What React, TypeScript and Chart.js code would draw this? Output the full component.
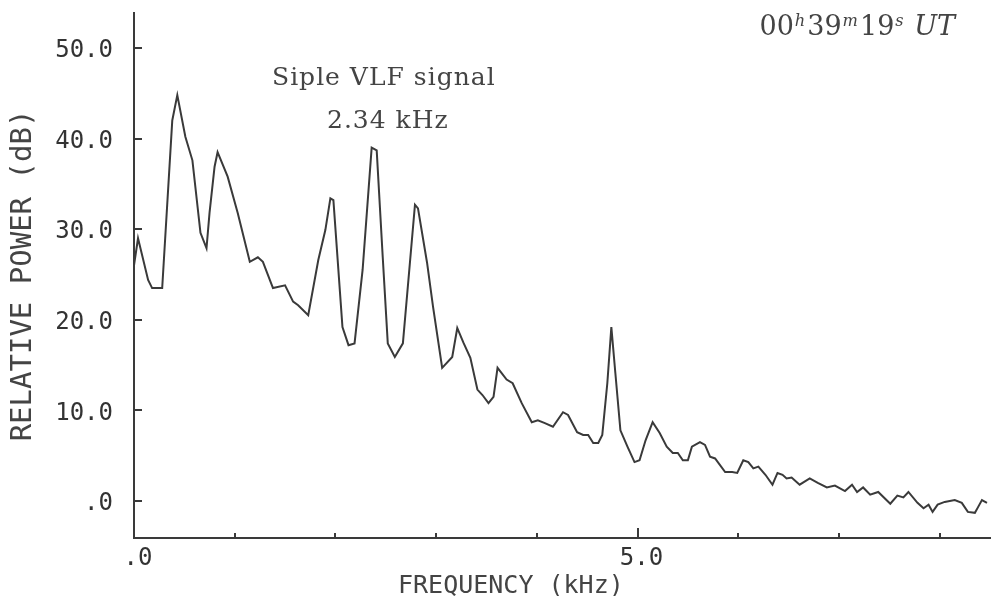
import React, { useEffect, useRef } from 'react';
import { Chart, registerables } from 'chart.js';

Chart.register(...registerables);

// ---- data ----
const freqKHz = [
  0.0, 0.04, 0.14, 0.18, 0.28, 0.38, 0.43, 0.51, 0.58, 0.66, 0.72, 0.75, 0.8, 0.83, 0.93, 1.03,
  1.15, 1.23, 1.28, 1.38, 1.5, 1.58, 1.63, 1.73, 1.83, 1.9, 1.95, 1.98, 2.07, 2.13, 2.19, 2.27,
  2.36, 2.41, 2.47, 2.52, 2.59, 2.67, 2.79, 2.82, 2.91, 2.97, 3.06, 3.16, 3.21, 3.27, 3.34, 3.41,
  3.46, 3.52, 3.57, 3.61, 3.7, 3.76, 3.85, 3.95, 4.01, 4.08, 4.16, 4.26, 4.31, 4.4, 4.46, 4.51,
  4.56, 4.61, 4.65, 4.7, 4.74, 4.78, 4.83, 4.9, 4.97, 5.02, 5.08, 5.15, 5.22, 5.29, 5.35, 5.4,
  5.45, 5.5, 5.54, 5.62, 5.67, 5.72, 5.77, 5.87, 5.94, 5.99, 6.05, 6.1, 6.15, 6.2, 6.27, 6.34,
  6.39, 6.44, 6.48, 6.53, 6.61, 6.71, 6.79, 6.88, 6.96, 7.06, 7.13, 7.18, 7.24, 7.31, 7.39, 7.51,
  7.58, 7.64, 7.69, 7.78, 7.84, 7.89, 7.93, 7.98, 8.05, 8.15, 8.22, 8.28, 8.35, 8.38, 8.42, 8.47,
];
const powerDB = [
  26.0, 29.0, 24.4, 23.5, 23.5, 42.0, 44.8, 40.2, 37.6, 29.6, 27.9, 31.8, 36.9, 38.5, 35.8, 31.8,
  26.4, 26.9, 26.4, 23.5, 23.8, 22.0, 21.6, 20.5, 26.6, 29.9, 33.4, 33.2, 19.2, 17.2, 17.4, 25.5,
  39.0, 38.7, 26.9, 17.4, 15.9, 17.4, 32.7, 32.3, 26.3, 21.4, 14.7, 15.9, 19.1, 17.5, 15.8, 12.3,
  11.7, 10.8, 11.5, 14.7, 13.4, 13.0, 10.8, 8.7, 8.9, 8.6, 8.2, 9.8, 9.5, 7.6, 7.3, 7.3,
  6.4, 6.4, 7.3, 13.0, 19.2, 14.1, 7.8, 6.0, 4.3, 4.5, 6.7, 8.7, 7.5, 6.0, 5.3, 5.3,
  4.5, 4.5, 6.0, 6.5, 6.2, 4.9, 4.7, 3.2, 3.2, 3.1, 4.5, 4.3, 3.6, 3.8, 2.9, 1.8,
  3.1, 2.9, 2.5, 2.6, 1.8, 2.5, 2.0, 1.5, 1.7, 1.1, 1.8, 1.0, 1.5, 0.7, 1.0, -0.3,
  0.6, 0.4, 1.0, -0.2, -0.8, -0.4, -1.2, -0.4, -0.1, 0.1, -0.2, -1.2, -1.3, -0.7, 0.1, -0.2,
];

const xTickValues = [0, 1, 2, 3, 4, 5, 6, 7, 8];
const xLabelledTicks = [0, 5];
const xLabelText = ['.0', '5.0'];
const yTickValues = [0, 10, 20, 30, 40, 50];
const yLabelText = ['.0', '10.0', '20.0', '30.0', '40.0', '50.0'];
const xRange = [0, 8.5];
const yRange = [-4.08, 53.86];

const yTitle = 'RELATIVE POWER (dB)';
const xTitle = 'FREQUENCY (kHz)';
const signalNote = ['Siple VLF signal', '2.34 kHz'];

const INK = '#3a3a3a';
const MONO = '"DejaVu Sans Mono", monospace';
const SERIF = '"DejaVu Serif", serif';

const inwardTicks = {
  id: 'inwardTicks',
  afterDatasetsDraw(chart: any) {
    const { ctx, chartArea, scales } = chart;
    ctx.save();
    ctx.strokeStyle = INK;
    ctx.lineWidth = 2;
    xTickValues.forEach((v) => {
      if (v === 0) return;
      const px = Math.round(scales.x.getPixelForValue(v));
      const len = v === 5 ? 10 : 5;
      ctx.beginPath();
      ctx.moveTo(px, chartArea.bottom);
      ctx.lineTo(px, chartArea.bottom - len);
      ctx.stroke();
    });
    yTickValues.forEach((v) => {
      const py = Math.round(scales.y.getPixelForValue(v));
      ctx.beginPath();
      ctx.moveTo(chartArea.left, py);
      ctx.lineTo(chartArea.left + 8, py);
      ctx.stroke();
    });
    ctx.restore();
  },
};

export default function App() {
  const canvasRef = useRef<HTMLCanvasElement | null>(null);

  useEffect(() => {
    const canvas = canvasRef.current;
    if (!canvas) return;
    const chart = new Chart(canvas, {
      type: 'line',
      data: {
        datasets: [
          {
            data: freqKHz.map((f, i) => ({ x: f, y: powerDB[i] })),
            borderColor: INK,
            borderWidth: 2,
            pointRadius: 0,
            tension: 0,
            fill: false,
          },
        ],
      },
      options: {
        animation: false,
        responsive: false,
        devicePixelRatio: 1,
        layout: { padding: { top: 13, right: 3, left: 0, bottom: 0 } },
        plugins: { legend: { display: false }, tooltip: { enabled: false } },
        scales: {
          x: {
            type: 'linear',
            min: xRange[0],
            max: xRange[1],
            afterBuildTicks: (s: any) => {
              s.ticks = xLabelledTicks.map((v) => ({ value: v }));
            },
            afterFit: (s: any) => {
              s.height = 58;
              s.paddingLeft = 0;
              s.paddingRight = 0;
              s.paddingTop = 0;
              s.paddingBottom = 0;
            },
            grid: { display: false, drawTicks: false },
            border: { display: true, color: INK, width: 2 },
            ticks: {
              padding: 6,
              labelOffset: 4,
              maxRotation: 0,
              autoSkip: false,
              color: '#333',
              font: { family: MONO, size: 24 },
              callback: (v: any) => {
                const i = xLabelledTicks.indexOf(Number(v));
                return i >= 0 ? xLabelText[i] : '';
              },
            },
          },
          y: {
            type: 'linear',
            min: yRange[0],
            max: yRange[1],
            afterBuildTicks: (s: any) => {
              s.ticks = yTickValues.map((v) => ({ value: v }));
            },
            afterFit: (s: any) => {
              s.width = 134;
              s.paddingTop = 0;
              s.paddingBottom = 0;
              s.paddingLeft = 0;
              s.paddingRight = 0;
            },
            grid: { display: false, drawTicks: false },
            border: { display: true, color: INK, width: 2 },
            title: {
              display: true,
              text: yTitle,
              color: '#444',
              font: { family: MONO, size: 29, lineHeight: 1 },
              padding: { top: 9, bottom: 0 },
            },
            ticks: {
              padding: 21,
              labelOffset: 3,
              autoSkip: false,
              color: '#333',
              font: { family: MONO, size: 24 },
              callback: (v: any) => {
                const i = yTickValues.indexOf(Number(v));
                return i >= 0 ? yLabelText[i] : '';
              },
            },
          },
        },
      },
      plugins: [inwardTicks],
    } as any);
    return () => chart.destroy();
  }, []);

  const supStyle: React.CSSProperties = {
    fontSize: '0.6em',
    fontStyle: 'italic',
    position: 'relative',
    top: '-0.55em',
    marginLeft: 1,
    marginRight: 2,
  };

  return (
    <div style={{ position: 'absolute', left: 0, top: 0, width: 993, height: 596, background: '#fff', overflow: 'hidden' }}>
      <canvas ref={canvasRef} width={993} height={596} style={{ display: 'block' }} />
      <div
        style={{
          position: 'absolute',
          left: 272,
          top: 64,
          font: `25px ${SERIF}`,
          lineHeight: 1,
          letterSpacing: 1,
          color: '#444',
          whiteSpace: 'nowrap',
        }}
      >
        {signalNote[0]}
      </div>
      <div
        style={{
          position: 'absolute',
          left: 327,
          top: 107,
          font: `25px ${SERIF}`,
          lineHeight: 1,
          letterSpacing: 1,
          color: '#444',
          whiteSpace: 'nowrap',
        }}
      >
        {signalNote[1]}
      </div>
      <div
        style={{
          position: 'absolute',
          right: 38,
          top: 12,
          font: `27px ${SERIF}`,
          lineHeight: 1,
          color: '#444',
          whiteSpace: 'nowrap',
        }}
      >
        00<span style={supStyle}>h</span>39<span style={supStyle}>m</span>19<span style={supStyle}>s</span>{' '}
        <i>UT</i>
      </div>
      <div
        style={{
          position: 'absolute',
          left: 398,
          top: 572,
          font: `25px ${MONO}`,
          lineHeight: 1,
          color: '#444',
          whiteSpace: 'nowrap',
        }}
      >
        {xTitle}
      </div>
    </div>
  );
}
